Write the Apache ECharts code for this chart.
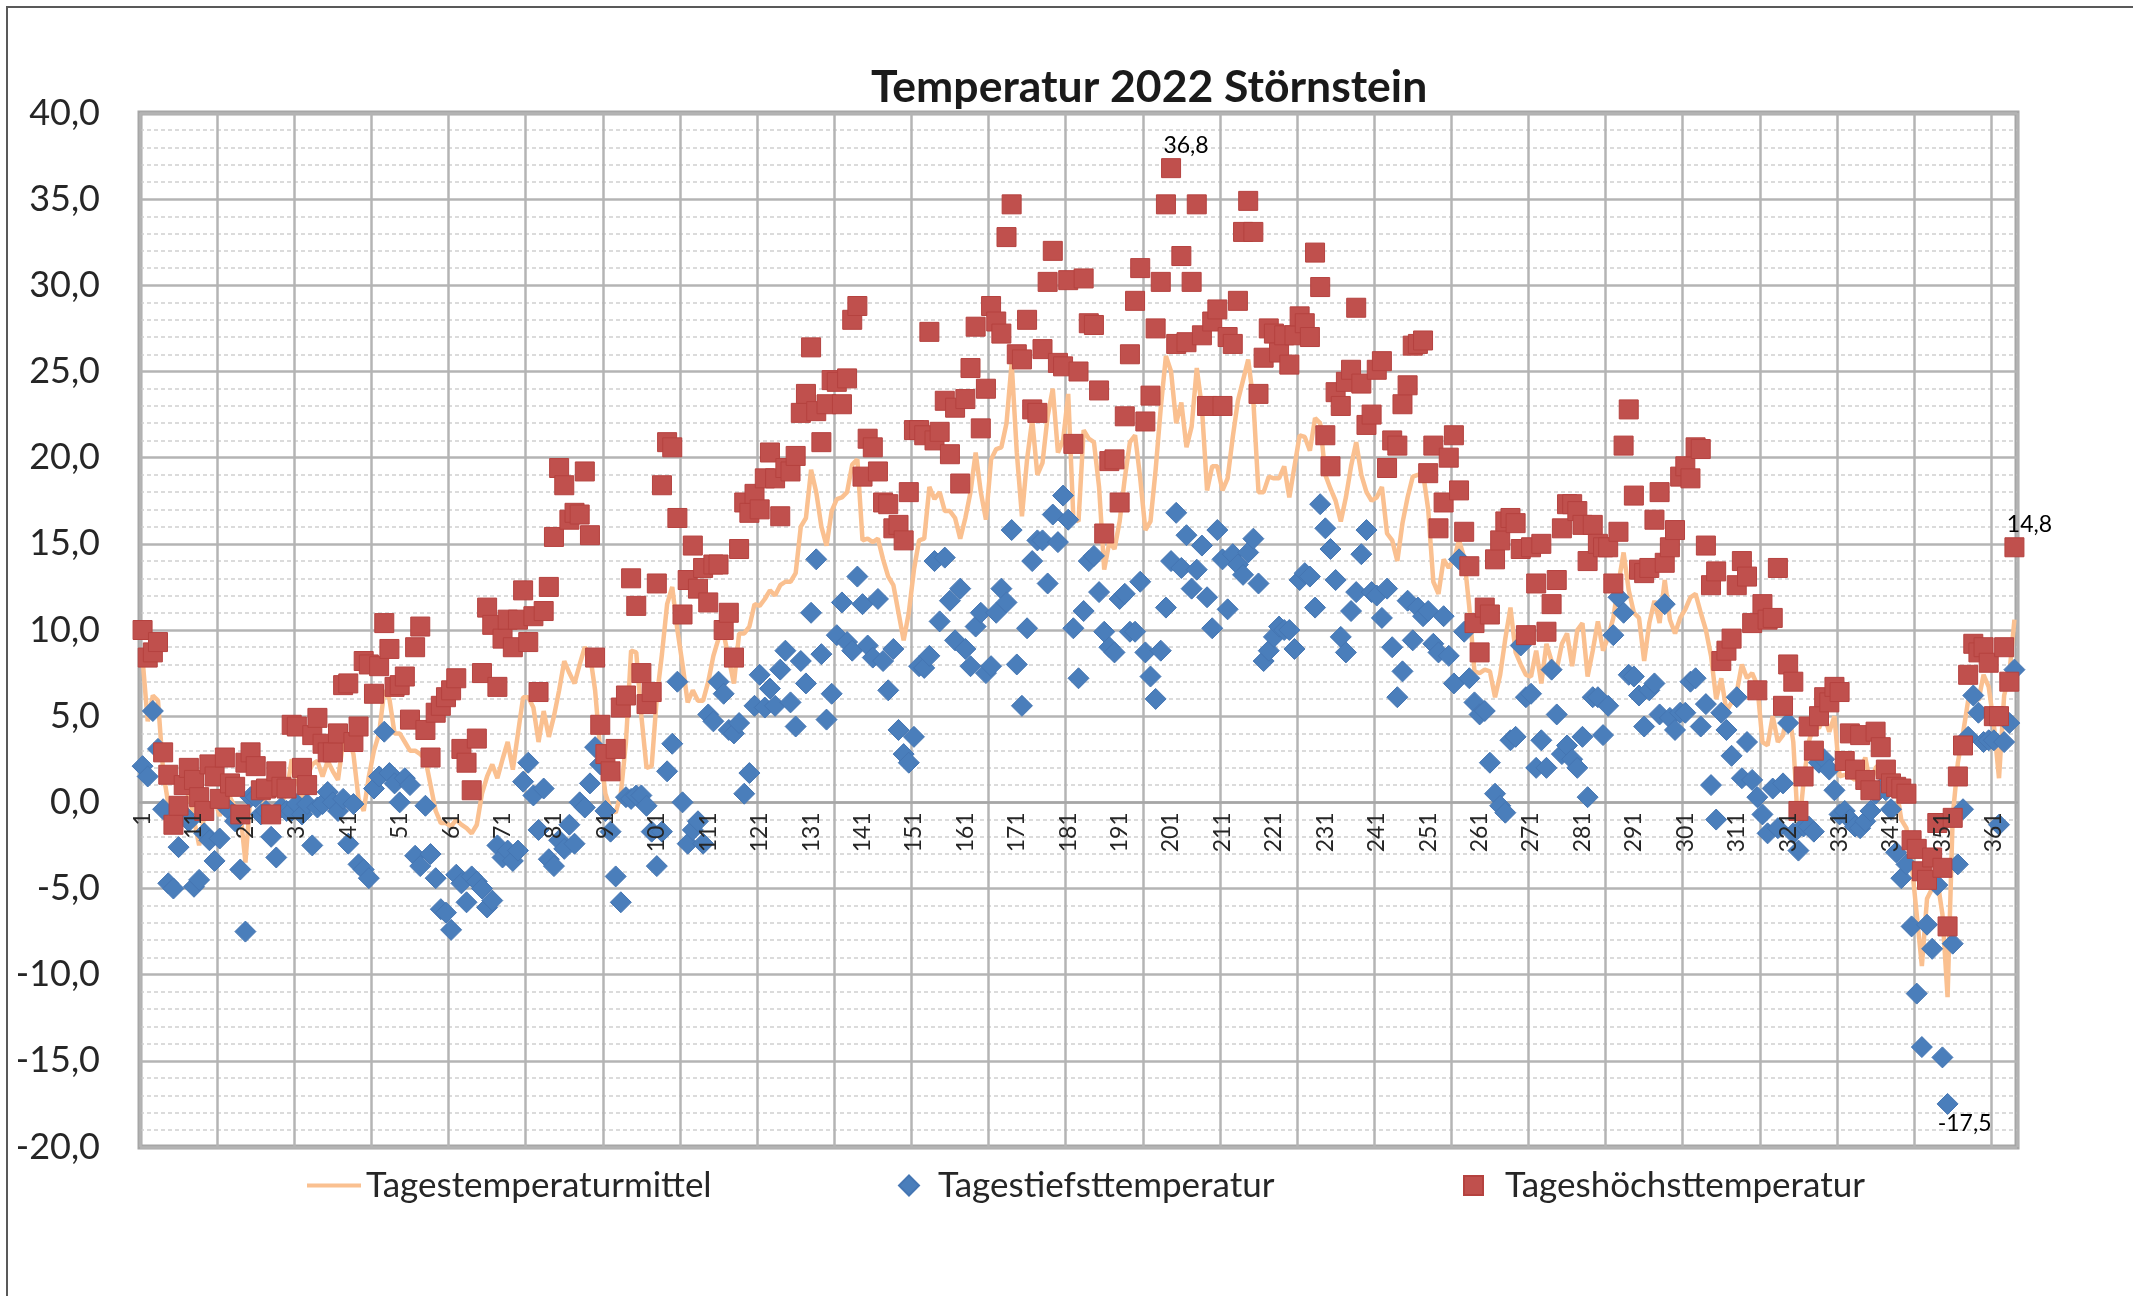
<!DOCTYPE html>
<html>
<head>
<meta charset="utf-8">
<title>Temperatur 2022 Störnstein</title>
<script src="https://cdn.jsdelivr.net/npm/echarts@6/dist/echarts.min.js"></script>
<style>
html, body { margin: 0; padding: 0; background: #fff; }
#chart { width: 2133px; height: 1296px; }
</style>
</head>
<body>
<div id="chart"></div>
<script>
// Tage des Jahres 1..365 (Kategorien der x-Achse)
const tage = [];
for (let d = 1; d <= 365; d++) tage.push(String(d));

// Tagesmittel (Linie)
const tagesMittel = [
  8.3, 4.7, 6.2, 5.9, 1.8, -0.1, -1.8, -0.5, -0.3, 0.5,
  -1.0, -2.5, -0.8, -0.3, 0.2, -0.8, 0.5, 0.3, -0.3, -0.5,
  -3.5, 0.5, 1.0, 0.3, -0.2, -1.0, -0.8, 0.0, 0.5, 2.5,
  1.5, 0.1, 1.5, 2.2, 2.4, 1.5, 2.4, 1.8, 1.3, 3.5,
  3.8, 2.8, 0.2, -0.5, 1.5, 3.0, 4.0, 6.5, 6.0, 4.0,
  4.0, 3.5, 3.0, 3.0, 2.8, 2.5, 1.0, -0.5, -1.2, -1.2,
  -1.4, -1.0, -1.3, -1.5, -1.8, -1.3, 0.5, 1.5, 2.2, 1.4,
  2.5, 3.5, 1.9, 4.0, 6.1, 6.1, 5.5, 3.5, 5.3, 3.8,
  5.0, 6.5, 8.2, 7.5, 6.9, 8.0, 9.0, 8.6, 6.5, 3.0,
  0.5, -0.4, -0.6, 0.5, 3.5, 8.8, 8.7, 5.0, 2.0, 2.1,
  6.1, 8.6, 11.5, 12.5, 10.0, 8.0, 5.8, 6.5, 5.9, 5.9,
  7.0, 8.5, 9.5, 9.8, 8.3, 6.9, 9.8, 9.8, 10.2, 11.5,
  11.4, 11.8, 12.3, 12.0, 12.6, 12.8, 12.8, 13.3, 16.0, 16.5,
  19.3, 18.0, 16.0, 14.9, 16.9, 17.6, 17.7, 18.0, 19.6, 19.9,
  15.2, 15.3, 15.1, 15.3, 14.1, 13.1, 12.6, 11.0, 9.4, 11.0,
  13.5, 15.2, 15.3, 18.3, 17.6, 18.0, 16.9, 16.9, 16.5, 15.3,
  16.5, 18.0, 20.3, 18.0, 16.4, 19.9, 20.5, 20.6, 22.0, 25.5,
  20.3, 16.6, 19.9, 22.2, 19.0, 19.7, 22.4, 24.0, 20.3, 21.0,
  23.7, 16.5, 16.3, 21.6, 21.1, 20.9, 18.3, 13.5, 15.1, 14.7,
  16.3, 18.8, 20.9, 21.3, 18.8, 15.8, 16.3, 19.3, 22.9, 25.9,
  25.0, 22.0, 23.2, 20.6, 21.8, 25.2, 22.9, 18.1, 19.5, 19.5,
  18.1, 18.8, 21.2, 23.3, 24.5, 25.7, 23.3, 18.0, 18.0, 18.9,
  18.8, 18.8, 19.5, 17.7, 19.5, 21.3, 21.2, 20.4, 22.3, 22.0,
  19.0, 18.2, 17.5, 16.3, 17.7, 19.5, 20.9, 19.0, 18.0, 17.5,
  17.7, 18.3, 15.6, 15.2, 14.0, 16.2, 17.7, 18.9, 19.0, 19.1,
  17.0, 12.8, 12.1, 14.1, 13.6, 14.1, 15.2, 14.2, 11.3, 7.6,
  7.5, 7.7, 7.6, 6.1, 7.4, 9.5, 11.3, 8.7, 8.0, 7.4,
  7.3, 8.8, 6.9, 9.2, 8.2, 7.7, 9.2, 9.8, 7.9, 10.0,
  10.4, 7.3, 8.8, 10.5, 8.8, 9.6, 10.7, 12.7, 14.5, 12.3,
  11.0, 10.7, 8.2, 10.4, 11.7, 10.4, 12.9, 10.6, 9.8, 10.7,
  11.2, 11.9, 12.1, 11.0, 10.0, 8.5, 6.0, 7.2, 5.3, 5.8,
  6.4, 8.0, 7.2, 7.5, 6.8, 3.5, 3.3, 5.0, 3.5, 3.9,
  5.5, 3.5, -1.9, 1.2, 3.5, 4.5, 4.3, 5.0, 4.1, 5.0,
  1.5, 1.6, 1.5, 1.3, 1.8, 2.6, 1.0, 2.0, 2.3, 0.9,
  0.8, 0.9, -1.0, -1.5, -3.5, -6.5, -9.5, -5.6, -5.0, -4.5,
  -6.5, -11.3, -0.8, 2.3, 4.0, 5.9, 6.4, 5.9, 7.4, 6.7,
  4.5, 1.4, 6.2, 7.4, 10.6
];

// Tagestiefstwerte (Rauten)
const tagesTiefst = [
  2.1, 1.5, 5.3, 3.1, -0.4, -4.7, -5.0, -2.6, -0.7, -1.1,
  -4.9, -4.5, -1.8, -2.2, -3.4, -2.1, -0.2, -0.5, -1.1, -3.9,
  -7.5, 0.3, 0.3, -0.7, -0.5, -2.0, -3.2, -0.3, -0.5, -0.5,
  -0.1, -0.7, -0.1, -2.5, -0.3, -0.1, 0.6, 0.0, -0.5, 0.2,
  -2.4, -0.1, -3.6, -3.9, -4.4, 0.8, 1.5, 4.1, 1.7, 1.1,
  0.0, 1.4, 1.0, -3.1, -3.7, -0.2, -3.0, -4.4, -6.2, -6.4,
  -7.4, -4.2, -4.7, -5.8, -4.3, -4.6, -5.0, -6.1, -5.7, -2.5,
  -3.2, -2.8, -3.4, -2.8, 1.2, 2.3, 0.4, -1.6, 0.8, -3.3,
  -3.7, -2.2, -2.7, -1.3, -2.4, 0.0, -0.3, 1.1, 3.2, 2.2,
  -0.5, -1.7, -4.3, -5.8, 0.3, 0.2, 0.4, 0.4, -0.2, -1.7,
  -3.7, -1.7, 1.8, 3.4, 7.0, 0.0, -2.4, -1.6, -1.1, -2.4,
  5.1, 4.7, 7.0, 6.3, 4.2, 4.0, 4.6, 0.5, 1.7, 5.6,
  7.4, 5.5, 6.6, 5.6, 7.7, 8.8, 5.8, 4.4, 8.2, 6.9,
  11.0, 14.1, 8.6, 4.8, 6.3, 9.7, 11.6, 9.3, 8.8, 13.1,
  11.5, 9.1, 8.4, 11.8, 8.2, 6.5, 8.9, 4.2, 2.8, 2.3,
  3.8, 7.9, 7.8, 8.5, 14.0, 10.5, 14.2, 11.7, 9.4, 12.4,
  8.9, 7.9, 10.2, 11.0, 7.5, 7.9, 11.0, 12.4, 11.6, 15.8,
  8.0, 5.6, 10.1, 14.0, 15.2, 15.2, 12.7, 16.7, 15.1, 17.8,
  16.4, 10.1, 7.2, 11.1, 14.0, 14.3, 12.2, 9.9, 9.0, 8.7,
  11.8, 12.1, 9.9, 9.9, 12.8, 8.7, 7.3, 6.0, 8.8, 11.3,
  14.0, 16.8, 13.6, 15.5, 12.4, 13.5, 14.9, 11.9, 10.1, 15.8,
  14.1, 11.2, 14.4, 13.8, 13.2, 14.5, 15.3, 12.7, 8.2, 8.8,
  9.6, 10.2, 10.0, 10.0, 8.9, 12.9, 13.3, 13.1, 11.3, 17.3,
  15.9, 14.7, 12.9, 9.6, 8.7, 11.1, 12.2, 14.4, 15.8, 12.2,
  12.0, 10.7, 12.4, 9.0, 6.1, 7.6, 11.7, 9.4, 11.3, 10.8,
  11.1, 9.2, 8.7, 10.8, 8.5, 6.9, 14.1, 9.9, 7.2, 5.8,
  5.1, 5.3, 2.3, 0.5, -0.2, -0.6, 3.6, 3.8, 9.1, 6.1,
  6.3, 2.0, 3.6, 2.0, 7.7, 5.1, 2.8, 3.3, 2.5, 2.0,
  3.8, 0.3, 6.1, 6.1, 3.9, 5.6, 9.7, 11.9, 11.0, 7.4,
  7.3, 6.2, 4.4, 6.5, 6.9, 5.1, 11.5, 4.9, 4.2, 5.2,
  5.2, 7.0, 7.2, 4.4, 5.7, 1.0, -1.0, 5.2, 4.2, 2.7,
  6.1, 1.4, 3.5, 1.3, 0.3, -0.7, -1.8, 0.8, -1.5, 1.1,
  4.6, -1.8, -2.8, -1.4, -1.4, -1.7, 2.3, 2.5, 1.9, 0.7,
  -0.7, -0.5, -1.0, -1.4, -1.5, -1.1, -0.5, 0.5, 0.8, 0.7,
  -0.4, -2.9, -4.4, -3.6, -7.2, -11.1, -14.2, -7.1, -8.5, -4.8,
  -14.8, -17.5, -8.2, -3.6, -0.4, 3.8, 6.2, 5.2, 3.5, 3.6,
  3.6, -1.3, 3.5, 4.6, 7.7
];

// Tageshöchstwerte (Quadrate)
const tagesHoechst = [
  10.0, 8.4, 8.7, 9.3, 2.9, 1.6, -1.3, -0.2, 1.0, 2.0,
  1.3, 0.3, -0.5, 2.2, 1.5, 0.2, 2.6, 1.1, 0.9, -0.7,
  2.3, 2.9, 2.1, 0.7, 0.8, -0.7, 1.8, 0.9, 0.8, 4.5,
  4.4, 2.0, 1.0, 3.9, 4.9, 3.4, 2.9, 2.9, 4.0, 6.8,
  6.9, 3.5, 4.4, 8.2, 8.0, 6.3, 7.9, 10.4, 8.9, 6.7,
  6.8, 7.3, 4.8, 9.0, 10.2, 4.2, 2.6, 5.2, 5.6, 6.1,
  6.5, 7.2, 3.1, 2.3, 0.7, 3.7, 7.5, 11.3, 10.3, 6.7,
  9.5, 10.6, 9.0, 10.6, 12.3, 9.3, 10.8, 6.4, 11.1, 12.5,
  15.4, 19.4, 18.4, 16.4, 16.8, 16.7, 19.2, 15.5, 8.4, 4.5,
  2.8, 1.8, 3.1, 5.5, 6.2, 13.0, 11.4, 7.5, 5.7, 6.4,
  12.7, 18.4, 20.9, 20.6, 16.5, 10.9, 12.9, 14.9, 12.4, 13.6,
  11.6, 13.8, 13.8, 10.0, 11.0, 8.4, 14.7, 17.4, 16.8, 17.9,
  17.0, 18.8, 20.3, 18.8, 16.6, 19.4, 19.2, 20.1, 22.6, 23.7,
  26.4, 22.7, 20.9, 23.1, 24.5, 24.4, 23.1, 24.6, 28.0, 28.8,
  18.9, 21.1, 20.6, 19.2, 17.4, 17.3, 15.9, 16.1, 15.2, 18.0,
  21.6, 21.6, 21.3, 27.3, 21.0, 21.5, 23.3, 20.2, 22.9, 18.5,
  23.4, 25.2, 27.6, 21.7, 24.0, 28.8, 27.9, 27.2, 32.8, 34.7,
  26.0, 25.7, 28.0, 22.8, 22.6, 26.3, 30.2, 32.0, 25.5, 25.3,
  30.3, 20.8, 25.0, 30.4, 27.8, 27.7, 23.9, 15.6, 19.8, 19.9,
  17.4, 22.4, 26.0, 29.1, 31.0, 22.1, 23.6, 27.5, 30.2, 34.7,
  36.8, 26.6, 31.7, 26.7, 30.2, 34.7, 27.1, 23.0, 27.9, 28.6,
  23.0, 27.0, 26.6, 29.1, 33.1, 34.9, 33.1, 23.7, 25.8, 27.5,
  27.2, 26.1, 27.1, 25.4, 27.1, 28.2, 27.8, 27.0, 31.9, 29.9,
  21.3, 19.5, 23.8, 23.0, 24.4, 25.1, 28.7, 24.3, 21.9, 22.5,
  25.1, 25.6, 19.4, 21.0, 20.7, 23.1, 24.2, 26.5, 26.6, 26.8,
  19.1, 20.7, 15.9, 17.4, 20.0, 21.3, 18.1, 15.7, 13.7, 10.4,
  8.7, 11.3, 10.9, 14.1, 15.2, 16.3, 16.5, 16.2, 14.7, 9.7,
  14.8, 12.7, 15.0, 9.9, 11.5, 12.9, 15.9, 17.3, 17.3, 16.9,
  16.1, 14.0, 16.1, 15.0, 14.8, 14.8, 12.7, 15.7, 20.7, 22.8,
  17.8, 13.5, 13.3, 13.6, 16.4, 18.0, 13.9, 14.8, 15.8, 18.9,
  19.5, 18.8, 20.6, 20.5, 14.9, 12.6, 13.4, 8.2, 8.8, 9.5,
  12.6, 14.0, 13.1, 10.4, 6.5, 11.5, 10.6, 10.7, 13.6, 5.6,
  8.0, 7.0, -0.5, 1.5, 4.4, 3.0, 5.0, 6.1, 5.8, 6.7,
  6.4, 2.4, 4.0, 1.9, 3.9, 1.3, 0.7, 4.1, 3.2, 1.9,
  1.1, 0.9, 0.8, 0.5, -2.2, -2.7, -4.0, -4.5, -3.2, -1.2,
  -3.8, -7.2, -0.9, 1.5, 3.3, 7.4, 9.2, 8.7, 9.0, 8.1,
  5.0, 5.0, 9.0, 7.0, 14.8
];

// Y-Achse
const yMin = -20;
const yMax = 40;
const yStep = 5;

// beschriftete Punkte (Tag des Jahres)
const hoechstLabelTage = [201, 365];
const tiefstLabelTage = [352];

const fmt = v => v.toFixed(1).replace('.', ',');
const schrift = 'Lato, "Open Sans", sans-serif';

// Plotfläche
const gridTop = 113, gridH = 1034;
// x-Achse liegt auf der Nulllinie
const xAchsenVersatz = -gridH * (0 - yMin) / (yMax - yMin);

const hoechstDaten = tagesHoechst.map((v, i) => hoechstLabelTage.includes(i + 1)
  ? { value: v, label: { show: true, position: 'top', distance: 3, offset: [15, 2],
      formatter: p => fmt(p.value), fontSize: 23, color: '#000', fontFamily: schrift } }
  : v);
const tiefstDaten = tagesTiefst.map((v, i) => tiefstLabelTage.includes(i + 1)
  ? { value: v, label: { show: true, position: 'bottom', distance: 3, offset: [17, -6],
      formatter: p => fmt(p.value), fontSize: 23, color: '#000', fontFamily: schrift } }
  : v);

const chart = echarts.init(document.getElementById('chart'), null, { renderer: 'canvas' });

const option = {
  backgroundColor: '#fff',
  animation: false,
  textStyle: { fontFamily: schrift },
  graphic: [{
    type: 'rect',
    shape: { x: 7, y: 7, width: 2300, height: 1500 },
    style: { fill: 'none', stroke: '#595959', lineWidth: 2 },
    silent: true
  }],
  title: {
    text: 'Temperatur 2022 Störnstein',
    left: 866,
    top: 60,
    textStyle: { fontSize: 44.5, fontWeight: 'bold', color: '#1a1a1a', fontFamily: schrift }
  },
  legend: [
    { data: [{ name: 'Tagestemperaturmittel', icon: 'rect' }], left: 302, top: 1163, itemWidth: 54, itemHeight: 4,
      itemStyle: { color: '#FAC090' },
      textStyle: { fontSize: 35, color: '#262626', fontFamily: schrift } },
    { data: [{ name: 'Tagestiefsttemperatur', icon: 'diamond' }], left: 893, top: 1163, itemWidth: 20, itemHeight: 20,
      textStyle: { fontSize: 35, color: '#262626', fontFamily: schrift, padding: [0, 0, 0, 14] } },
    { data: [{ name: 'Tageshöchsttemperatur', icon: 'rect' }], left: 1458, top: 1163, itemWidth: 19, itemHeight: 19,
      textStyle: { fontSize: 35, color: '#262626', fontFamily: schrift, padding: [0, 0, 0, 17] } }
  ],
  grid: {
    left: 140, top: gridTop, width: 1877, height: gridH,
    show: true, borderColor: '#A6A6A6', borderWidth: 5, backgroundColor: 'transparent'
  },
  xAxis: [
    {
      // Gitterlinien und Nulllinie
      type: 'category',
      data: tage,
      boundaryGap: true,
      position: 'bottom',
      offset: xAchsenVersatz,
      axisLine: { onZero: false, lineStyle: { color: '#A6A6A6', width: 2.5 } },
      axisTick: { show: false },
      axisLabel: { show: false },
      splitLine: { show: true, interval: 14, lineStyle: { color: '#B4B4B4', width: 2.5 } }
    },
    {
      // Beschriftung über den Markern
      type: 'category',
      data: tage,
      boundaryGap: true,
      position: 'bottom',
      offset: xAchsenVersatz,
      z: 10,
      axisLine: { show: false, onZero: false },
      axisTick: { show: false },
      splitLine: { show: false },
      axisLabel: { interval: 9, rotate: 90, margin: 10, fontSize: 23, color: '#262626', fontFamily: schrift }
    }
  ],
  yAxis: {
    type: 'value',
    min: yMin, max: yMax, interval: yStep,
    axisLine: { show: false },
    axisTick: { show: false },
    axisLabel: { formatter: fmt, fontSize: 36, color: '#262626', margin: 40, fontFamily: schrift },
    splitLine: { show: true, lineStyle: { color: '#B4B4B4', width: 2.5 } },
    minorTick: { show: false, splitNumber: 5 },
    minorSplitLine: { show: true, lineStyle: { color: '#CFCFCF', width: 1.5, type: [4, 3] } }
  },
  series: [
    {
      name: 'Tagestemperaturmittel',
      type: 'line',
      data: tagesMittel,
      symbol: 'none',
      showSymbol: false,
      itemStyle: { color: '#FAC090' },
      lineStyle: { color: '#FAC090', width: 4.5 },
      z: 2
    },
    {
      name: 'Tagestiefsttemperatur',
      type: 'scatter',
      data: tiefstDaten,
      symbol: 'diamond',
      symbolSize: 21,
      itemStyle: { color: '#4A7EBB', borderColor: '#4576B3', borderWidth: 1, opacity: 1 },
      z: 3
    },
    {
      name: 'Tageshöchsttemperatur',
      type: 'scatter',
      data: hoechstDaten,
      symbol: 'rect',
      symbolSize: 19,
      itemStyle: { color: '#C0504D', borderColor: '#B5423F', borderWidth: 1, opacity: 1 },
      z: 4
    }
  ]
};

chart.setOption(option);
</script>
</body>
</html>
